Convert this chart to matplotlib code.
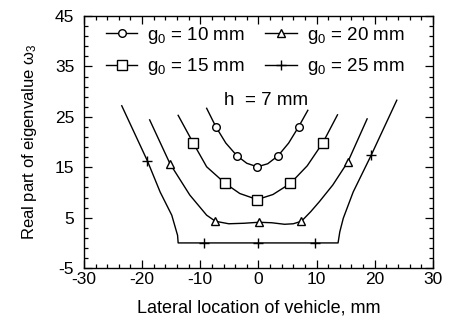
import matplotlib
matplotlib.use("Agg")
import matplotlib.pyplot as plt
from matplotlib.ticker import AutoMinorLocator, FixedLocator

plt.rcParams["font.family"] = ["Liberation Sans", "DejaVu Sans"]
plt.rcParams["mathtext.fontset"] = "custom"
plt.rcParams["mathtext.rm"] = "Liberation Sans"
plt.rcParams["mathtext.it"] = "Liberation Sans:italic"
plt.rcParams["axes.unicode_minus"] = False

# g0 = 10 mm
line10_x = [-8.9, -7.3, -5.6, -3.7, -2.0, -0.2, 1.6, 3.4, 5.2, 6.9, 8.5]
line10_y = [26.7, 23.0, 19.8, 17.3, 15.8, 15.1, 15.7, 17.3, 19.8, 23.0, 26.3]
mark10_x = [-7.3, -3.7, -0.2, 3.4, 6.9]
mark10_y = [23.0, 17.3, 15.1, 17.3, 23.0]

# g0 = 15 mm
line15_x = [-13.8, -11.2, -8.9, -5.7, -3.2, -0.2, 2.5, 5.5, 8.4, 11.1, 13.6]
line15_y = [25.3, 19.8, 15.1, 11.8, 9.8, 8.6, 9.6, 11.8, 15.3, 19.9, 25.4]
mark15_x = [-11.2, -5.7, -0.2, 5.5, 11.1]
mark15_y = [19.8, 11.8, 8.6, 11.8, 19.9]

# g0 = 20 mm
line20_x = [-18.7, -15.2, -11.8, -8.9, -7.4, -5.1, -2.5, 0.1, 2.3, 4.5, 6.0, 7.4,
            9.0, 10.5, 12.8, 15.4, 18.7]
line20_y = [24.4, 15.7, 9.5, 5.5, 4.3, 3.8, 3.9, 4.1, 4.0, 3.7, 3.8, 4.3,
            6.2, 8.2, 11.5, 16.1, 24.6]
mark20_x = [-15.2, -7.4, 0.1, 7.4, 15.4]
mark20_y = [15.7, 4.3, 4.1, 4.3, 16.1]

# g0 = 25 mm
line25_x = [-23.5, -19.1, -16.9, -14.9, -14.4, -13.9, -13.8, 13.7, 14.0, 14.6,
            16.3, 19.4, 23.8]
line25_y = [27.2, 16.3, 10.1, 5.5, 3.5, 1.5, 0.0, 0.0, 2.2, 4.9,
            10.1, 17.4, 28.3]
mark25_x = [-19.1, -9.4, 0.0, 9.7, 19.4]
mark25_y = [16.3, 0.0, 0.0, 0.0, 17.4]

labels = [r"g$_0$ = 10 mm", r"g$_0$ = 15 mm", r"g$_0$ = 20 mm", r"g$_0$ = 25 mm"]
x_ticks = [-30, -20, -10, 0, 10, 20, 30]
y_ticks = [-5, 5, 15, 25, 35, 45]

fig = plt.figure(figsize=(4.49, 3.27), dpi=100)
ax = fig.add_axes([0.187, 0.180, 0.777, 0.771])

series = [
    (line10_x, line10_y, mark10_x, mark10_y, "o", 5.5),
    (line15_x, line15_y, mark15_x, mark15_y, "s", 6.5),
    (line20_x, line20_y, mark20_x, mark20_y, "^", 5.5),
    (line25_x, line25_y, mark25_x, mark25_y, "+", 7),
]
handles = []
for (lx, ly, mx, my, m, ms), lab in zip(series, labels):
    ax.plot(lx, ly, color="black", lw=1.0)
    ax.plot(mx, my, ls="none", marker=m, ms=ms, mfc="white", mec="black",
            mew=1.0, color="black")
    h, = ax.plot([], [], color="black", lw=1.0, marker=m, ms=ms, mfc="white",
                 mec="black", mew=1.0, label=lab)
    handles.append(h)

ax.legend(handles=handles, ncol=2, loc="upper left", frameon=False,
          fontsize=13.5, handlelength=1.7, handletextpad=0.5,
          columnspacing=1.1, labelspacing=0.55, borderpad=0.0,
          borderaxespad=0.0, bbox_to_anchor=(0.062, 0.965))

ax.text(1.3, 28.3, "h  = 7 mm", ha="center", va="center", fontsize=13.5)

ax.set_xlim(-30, 30)
ax.set_ylim(-5, 45)
ax.xaxis.set_major_locator(FixedLocator(x_ticks))
ax.yaxis.set_major_locator(FixedLocator(y_ticks))
ax.xaxis.set_minor_locator(AutoMinorLocator(5))
ax.yaxis.set_minor_locator(AutoMinorLocator(5))
ax.tick_params(which="both", direction="in", top=True, right=True,
               labelsize=12.5, width=0.9)
ax.tick_params(which="major", length=6)
ax.tick_params(which="minor", length=3)
ax.tick_params(axis="x", which="major", pad=3)
ax.tick_params(axis="y", which="major", pad=7)
for s in ax.spines.values():
    s.set_linewidth(1.0)

ax.set_xlabel("Lateral location of vehicle, mm", fontsize=13, labelpad=9)
ax.set_ylabel(r"Real part of eigenvalue ω$_3$", fontsize=12, labelpad=11)

fig.savefig("out.png", dpi=100)
